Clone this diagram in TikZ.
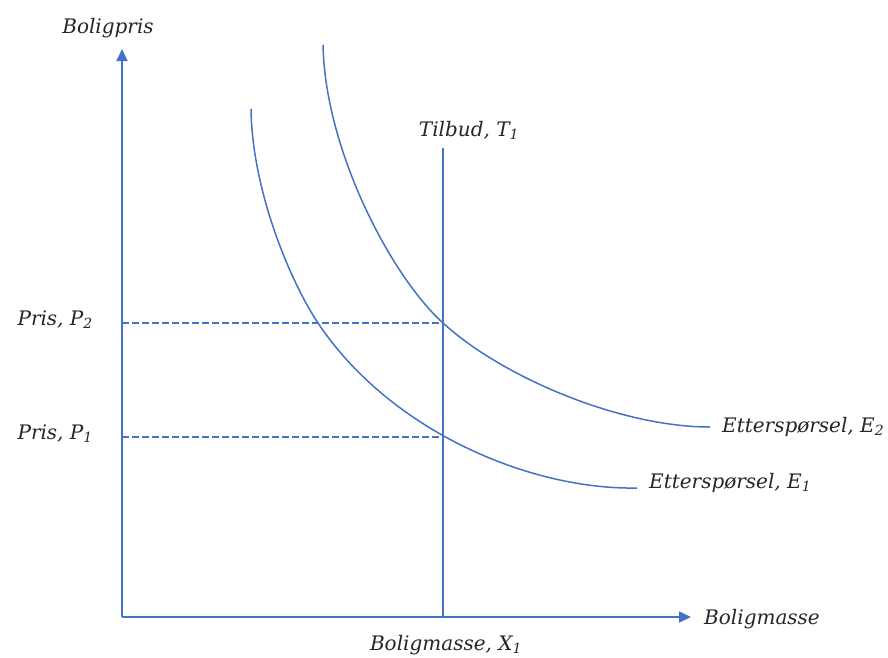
\documentclass[tikz,border=0pt]{standalone}
\usepackage{fontspec}
\setmainfont{DejaVu Serif}
\usetikzlibrary{arrows.meta}
\definecolor{lineblue}{HTML}{4472C4}
\tikzset{
  axis/.style={draw=lineblue, line width=1.6pt, -{Triangle[length=12pt,width=11pt]}},
  curve/.style={draw=lineblue, line width=1.5pt},
  guide/.style={draw=lineblue, line width=1.4pt, dash pattern=on 6.5pt off 3.5pt},
  lbl/.style={inner sep=0pt, font=\fontsize{20}{24}\selectfont\itshape, text=black!85}
}
\begin{document}
\begin{tikzpicture}[x=1pt,y=-1pt]
\useasboundingbox (0,0) rectangle (888,657);
% axes
\coordinate (O) at (122,617);
\coordinate (ytop) at (122,49);
\coordinate (xend) at (691,617);
\draw[axis] (O) -- (ytop);
\draw[axis] (O) -- (xend);
% supply line
\coordinate (Ttop) at (443,148);
\coordinate (Tbot) at (443,617);
\draw[curve] (Tbot) -- (Ttop);
% equilibrium points
\coordinate (Q2) at (443,323);
\coordinate (Q1) at (443,437);
\coordinate (Y2) at (122,323);
\coordinate (Y1) at (122,437);
\draw[guide] (Y2) -- (Q2);
\draw[guide] (Y1) -- (Q1);
% demand curves
\coordinate (E2s) at (323,45);
\coordinate (E2e) at (710,427);
\draw[curve] (E2s) .. controls (325,150) and (391,276) .. (Q2)
                   .. controls (502,377) and (620,427) .. (E2e);
\coordinate (E1s) at (251,109);
\coordinate (E1m) at (318,323);
\coordinate (E1e) at (637,488);
\draw[curve] (E1s) .. controls (252,190) and (290,281) .. (E1m)
                   .. controls (390,431) and (530,490) .. (E1e);
% labels
\node[lbl, anchor=base] (ylab) at (108,33) {Boligpris};
\node[lbl, anchor=base] (tlab) at (469,136) {Tilbud, T\textsubscript{1}};
\node[lbl, anchor=base east] (p2lab) at (93,325) {Pris, P\textsubscript{2}};
\node[lbl, anchor=base east] (p1lab) at (93,439) {Pris, P\textsubscript{1}};
\node[lbl, anchor=base west] (e2lab) at (722,432) {Etterspørsel, E\textsubscript{2}};
\node[lbl, anchor=base west] (e1lab) at (649,488) {Etterspørsel, E\textsubscript{1}};
\node[lbl, anchor=base west] (xlab) at (704,624) {Boligmasse};
\node[lbl, anchor=base] (x1lab) at (446,650) {Boligmasse, X\textsubscript{1}};
\end{tikzpicture}
\end{document}
